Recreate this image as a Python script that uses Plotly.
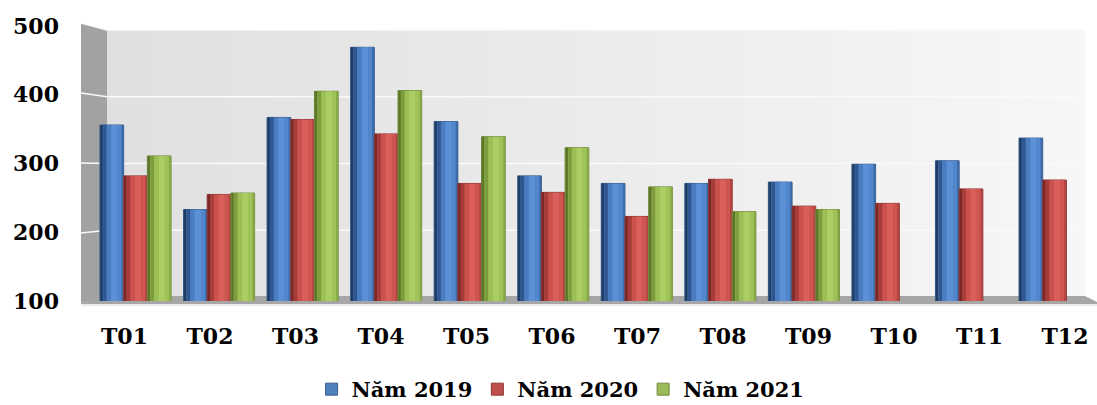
import plotly.graph_objects as go

# ---- data -------------------------------------------------------------
months = ["T01", "T02", "T03", "T04", "T05", "T06",
          "T07", "T08", "T09", "T10", "T11", "T12"]
nam_2019 = [356, 233, 367, 469, 361, 282, 271, 271, 273, 299, 304, 337]
nam_2020 = [282, 255, 364, 343, 271, 258, 223, 277, 238, 242, 263, 276]
nam_2021 = [311, 257, 405, 406, 339, 323, 266, 230, 233, None, None, None]
series_names = ["Năm 2019", "Năm 2020", "Năm 2021"]
y_ticks = [100, 200, 300, 400, 500]

# ---- styling ----------------------------------------------------------
W, H = 1097, 405
FONT = "DejaVu Serif"

# cylinder shading: strips across each bar (fraction from, fraction to, colour)
shading = [
    [(0.00, 0.12, "#1e3c64"), (0.12, 0.28, "#2f5690"), (0.28, 0.46, "#4a7cc1"),
     (0.46, 0.74, "#5b90d6"), (0.74, 0.90, "#5287cd"), (0.90, 1.00, "#3d6aa8")],
    [(0.00, 0.12, "#7a2826"), (0.12, 0.28, "#a63c39"), (0.28, 0.46, "#cb514d"),
     (0.46, 0.74, "#da5f5a"), (0.74, 0.90, "#cf5551"), (0.90, 1.00, "#b14441")],
    [(0.00, 0.12, "#5b7628"), (0.12, 0.28, "#7d9c3c"), (0.28, 0.46, "#9bbf55"),
     (0.46, 0.74, "#abcd62"), (0.74, 0.90, "#a0c359"), (0.90, 1.00, "#88a947")],
]
legend_fill = ["#4f81bd", "#c0504d", "#9bbb59"]
legend_line = ["#385d8a", "#8c3836", "#71893f"]

# pixel geometry of the 3-D box (decoration frame uses pixel units)
WALL_L, WALL_R, WALL_T, WALL_B = 107, 1085, 30, 297
SIDE_L, SIDE_T, SIDE_B = 81, 23, 303
FLOOR_R = 1097


def wall_y(v):
    return WALL_B - (v - y_ticks[0]) / (y_ticks[-1] - y_ticks[0]) * (WALL_B - WALL_T)


def side_y(v):
    return SIDE_B - (v - y_ticks[0]) / (y_ticks[-1] - y_ticks[0]) * (SIDE_B - SIDE_T)


# plotting region for the bars (pixels)
PLOT_L, PLOT_R = 90, 1090
Y_BOTTOM_PX, Y_TOP_PX = 301, 26
BAR_FIRST_PX, BAR_STEP_PX = 135.5, 83.55      # group centres of the bars
LAB_FIRST_PX, LAB_STEP_PX = 124.5, 85.5       # category label centres
SLOT = 23.7 / BAR_STEP_PX                    # one bar width in category units

fig = go.Figure()

# ---- decoration: side wall, back wall, floor, gridlines ----------------
deco = dict(xaxis="x", yaxis="y", showlegend=False, hoverinfo="skip")

fig.add_trace(go.Scatter(
    x=[SIDE_L, WALL_L, WALL_L, SIDE_L, SIDE_L],
    y=[SIDE_T, WALL_T, WALL_B, SIDE_B, SIDE_T],
    mode="lines", line=dict(width=0), fill="toself",
    fillcolor="#a2a2a2", **deco))

fig.add_trace(go.Scatter(
    x=[WALL_L, WALL_R, WALL_R, WALL_L, WALL_L],
    y=[WALL_T, WALL_T, WALL_B, WALL_B, WALL_T],
    mode="lines", line=dict(width=0), fill="toself",
    fillgradient=dict(type="horizontal",
                      colorscale=[[0, "#e0e0e0"], [1, "#f7f7f7"]]),
    **deco))

for v in y_ticks[1:]:
    fig.add_trace(go.Scatter(
        x=[SIDE_L, WALL_L, WALL_R], y=[side_y(v), wall_y(v), wall_y(v)],
        mode="lines", line=dict(color="#fafafa", width=1.6), **deco))

fig.add_trace(go.Scatter(
    x=[SIDE_L, WALL_L, WALL_R, FLOOR_R, FLOOR_R, SIDE_L, SIDE_L],
    y=[SIDE_B, WALL_B - 1, WALL_B - 1, SIDE_B - 1, SIDE_B + 1, SIDE_B + 1, SIDE_B],
    mode="lines", line=dict(width=0), fill="toself",
    fillcolor="#a6a6a6", **deco))
fig.add_trace(go.Scatter(
    x=[SIDE_L, FLOOR_R], y=[SIDE_B + 2, SIDE_B + 2],
    mode="lines", line=dict(color="#d6d6d6", width=1.2), **deco))

# ---- bars ---------------------------------------------------------------
idx = list(range(len(months)))
all_series = [nam_2019, nam_2020, nam_2021]
for s, (vals, name) in enumerate(zip(all_series, series_names)):
    slot_off = (s - 1.5) * SLOT
    fig.add_trace(go.Bar(
        x=idx, y=vals, name=name, xaxis="x2", yaxis="y2",
        offset=slot_off, width=SLOT,
        marker=dict(color=legend_fill[s],
                    line=dict(color=legend_line[s], width=1)),
        customdata=months,
        hovertemplate="%{customdata}: %{y}<extra>" + name + "</extra>"))
    for f0, f1, col in shading[s]:
        fig.add_trace(go.Bar(
            x=idx, y=vals, xaxis="x2", yaxis="y2",
            offset=slot_off + f0 * SLOT + 0.004, width=(f1 - f0) * SLOT - 0.004,
            marker=dict(color=col, line=dict(width=0)),
            showlegend=False, hoverinfo="skip"))

# invisible carrier for the category-label axis
fig.add_trace(go.Scatter(x=idx, y=[None] * len(idx), xaxis="x3", yaxis="y2",
                         mode="markers", showlegend=False, hoverinfo="skip"))

# ---- axes ---------------------------------------------------------------
x_dom = [PLOT_L / W, PLOT_R / W]
bar_range = [(PLOT_L - BAR_FIRST_PX) / BAR_STEP_PX, (PLOT_R - BAR_FIRST_PX) / BAR_STEP_PX]
lab_range = [(PLOT_L - LAB_FIRST_PX) / LAB_STEP_PX, (PLOT_R - LAB_FIRST_PX) / LAB_STEP_PX]
tick_font = dict(family=FONT, size=22, color="#000000", weight="bold")

fig.update_layout(
    width=W, height=H,
    margin=dict(l=0, r=0, t=0, b=0, pad=0, autoexpand=False),
    paper_bgcolor="#ffffff",
    plot_bgcolor="rgba(0,0,0,0)",
    barmode="overlay",
    xaxis=dict(domain=[0, 1], range=[0, W], visible=False, fixedrange=True),
    yaxis=dict(domain=[0, 1], range=[H, 0], visible=False, fixedrange=True),
    xaxis2=dict(domain=x_dom, range=bar_range, anchor="y2",
                visible=False, fixedrange=True),
    yaxis2=dict(domain=[1 - Y_BOTTOM_PX / H, 1 - Y_TOP_PX / H],
                range=[y_ticks[0], y_ticks[-1]], anchor="free", position=59 / W,
                tickvals=y_ticks, ticks="", showgrid=False, zeroline=False,
                showline=False, tickfont=tick_font, fixedrange=True),
    xaxis3=dict(domain=x_dom, range=lab_range, anchor="free",
                position=1 - 321 / H, tickvals=idx, ticktext=months,
                ticks="", showgrid=False, zeroline=False, showline=False,
                tickfont=tick_font, fixedrange=True),
    legend=dict(orientation="h", x=0.511, xanchor="center",
                y=-5 / H, yanchor="bottom",
                font=dict(family=FONT, size=21, color="#000000", weight="bold"),
                bgcolor="rgba(0,0,0,0)", itemwidth=30),
)

fig.write_html("out.html")
